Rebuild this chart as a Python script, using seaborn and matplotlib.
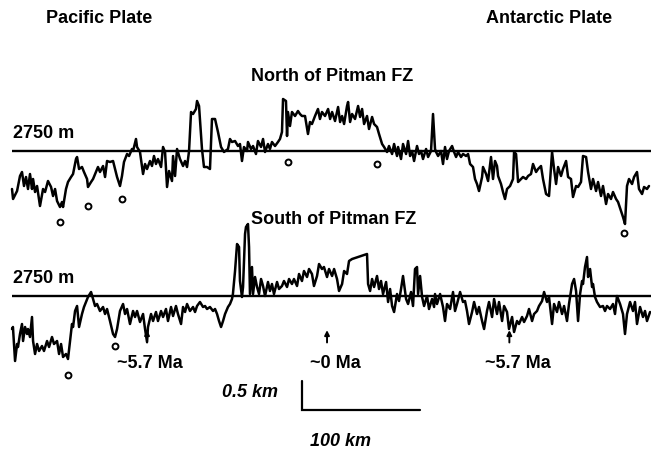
import matplotlib
matplotlib.use("Agg")
import matplotlib.pyplot as plt
import seaborn as sns
import pandas as pd

sns.set_theme(style="white")
plt.rcParams["font.family"] = ["Liberation Sans", "DejaVu Sans"]

# Along-axis distance from the ridge axis (km) and seafloor depth (m)
NORTH_KM = [
    -267.8, -266.9, -263.5, -261.0, -259.3, -257.6, -255.9, -254.2, -252.5, -250.8,
    -249.9, -248.2, -246.5, -244.0, -241.4, -239.7, -237.2, -234.6, -232.9, -231.2,
    -229.5, -227.0, -225.3, -224.4, -221.9, -220.2, -217.6, -215.9, -213.4, -212.5,
    -210.8, -208.3, -206.6, -204.0, -203.2, -200.6, -198.9, -196.4, -194.7, -193.0,
    -190.4, -188.7, -187.0, -184.5, -181.9, -180.2, -178.5, -176.0, -174.3, -172.6,
    -170.0, -168.3, -165.8, -164.9, -162.4, -161.5, -159.0, -156.4, -154.7, -153.0,
    -150.5, -148.8, -147.1, -145.4, -143.7, -141.1, -139.4, -137.7, -136.0, -134.3,
    -131.8, -130.9, -129.2, -127.5, -125.0, -122.4, -120.7, -119.0, -117.3, -115.6,
    -113.9, -111.4, -110.5, -108.8, -106.3, -104.6, -102.0, -99.5, -97.8, -95.2,
    -92.7, -90.1, -87.6, -84.2, -82.5, -80.8, -78.2, -75.7, -74.0, -72.3,
    -70.6, -68.0, -67.2, -64.6, -62.9, -60.4, -58.7, -56.1, -54.4, -52.7,
    -50.2, -48.5, -46.8, -44.2, -41.7, -40.0, -38.3, -37.4, -34.9, -34.0,
    -33.2, -31.5, -29.8, -27.2, -24.7, -23.0, -21.3, -18.7, -16.2, -14.5,
    -12.8, -10.2, -7.7, -6.0, -4.3, -1.7, 0.9, 2.6, 4.3, 6.8,
    9.4, 11.1, 12.8, 14.5, 17.0, 17.9, 19.6, 21.3, 23.8, 26.4,
    28.1, 29.8, 31.5, 34.0, 35.7, 38.3, 40.0, 42.5, 44.2, 46.8,
    48.5, 51.0, 52.7, 55.3, 57.0, 59.5, 60.4, 62.9, 64.6, 67.2,
    68.9, 70.6, 72.3, 74.0, 76.5, 78.2, 79.9, 81.6, 84.2, 85.9,
    88.4, 90.1, 91.8, 92.7, 94.4, 96.9, 98.6, 100.3, 102.0, 103.7,
    106.3, 108.0, 109.7, 111.4, 113.9, 115.6, 118.2, 119.9, 121.6, 124.1,
    125.8, 127.5, 129.2, 131.8, 132.6, 135.2, 136.9, 139.4, 141.1, 142.8,
    144.5, 145.4, 147.9, 149.6, 151.3, 153.0, 155.6, 158.1, 159.0, 160.7,
    162.4, 164.9, 166.6, 169.2, 170.9, 173.4, 175.1, 177.7, 179.4, 181.9,
    183.6, 186.2, 188.7, 191.3, 193.0, 194.7, 196.4, 198.9, 200.6, 203.2,
    204.9, 207.4, 209.1, 211.7, 213.4, 215.9, 217.6, 220.2, 221.9, 224.4,
    226.1, 228.7, 230.4, 232.9, 234.6, 237.2, 238.9, 241.4, 243.1, 245.7,
    247.4, 249.9, 251.6, 253.3, 255.0, 256.7, 259.3, 261.0, 263.5, 265.2,
    267.8, 269.5, 272.0, 273.7,
]
NORTH_DEPTH = [
    3396, 3566, 3430, 3175, 3107, 3345, 3192, 3396, 3141, 3396,
    3226, 3447, 3345, 3685, 3396, 3447, 3260, 3362, 3515, 3396,
    3600, 3702, 3617, 3702, 3396, 3277, 3192, 3141, 2886, 2852,
    3056, 3022, 3107, 3226, 3362, 3277, 3226, 3107, 3022, 3107,
    3005, 3192, 2920, 2937, 2920, 3056, 3192, 3345, 3175, 2937,
    2801, 2835, 2716, 2750, 2546, 2682, 2767, 3141, 2971, 3056,
    2920, 3005, 2835, 2971, 2886, 3022, 2682, 2767, 3362, 3090,
    3260, 2835, 3175, 2716, 2886, 3005, 2920, 3022, 2750, 2087,
    2121, 2036, 1900, 1985, 2716, 3022, 3022, 3056, 2206, 2206,
    2427, 2682, 2767, 2716, 2546, 2597, 2580, 2665, 2631, 2920,
    2682, 2750, 2597, 2716, 2665, 2801, 2580, 2682, 2546, 2767,
    2631, 2716, 2597, 2665, 2597, 2546, 2427, 1866, 1900, 2495,
    2087, 2325, 2087, 2155, 2070, 2121, 2155, 2155, 2461, 2257,
    2291, 2155, 2036, 2206, 2087, 2155, 2036, 2206, 2087, 2240,
    2002, 2257, 2155, 2291, 1985, 1917, 2257, 2121, 2206, 1985,
    2172, 2036, 2291, 2155, 2376, 2172, 2291, 2342, 2461, 2631,
    2682, 2767, 2665, 2801, 2631, 2835, 2682, 2886, 2631, 2801,
    2580, 2835, 2750, 2920, 2665, 2801, 2750, 2886, 2716, 2852,
    2750, 2121, 2716, 2767, 2835, 2750, 2971, 2682, 2886, 2750,
    2665, 2767, 2852, 2767, 2852, 2801, 2835, 2801, 2971, 3022,
    3226, 3311, 3430, 3192, 3022, 3141, 3260, 2852, 3226, 2920,
    3005, 3175, 3311, 3447, 3566, 3396, 3345, 3226, 2767, 2801,
    3277, 3226, 3192, 3226, 3175, 3141, 2971, 3107, 3056, 3005,
    3226, 3481, 3515, 2767, 3056, 3311, 3022, 3175, 3056, 2920,
    3192, 3226, 3532, 3345, 3362, 3277, 2835, 2852, 3107, 3396,
    3226, 3430, 3277, 3515, 3345, 3651, 3481, 3566, 3447, 3566,
    3617, 3770, 3872, 3991, 3345, 3226, 3311, 3192, 3107, 3396,
    3481, 3362, 3396, 3345,
]

SOUTH_KM = [
    -267.8, -267.0, -265.2, -263.5, -262.7, -261.0, -259.3, -258.4, -256.7, -255.0,
    -254.2, -252.5, -250.8, -249.9, -248.2, -246.5, -244.8, -242.3, -240.6, -238.0,
    -236.3, -233.8, -232.1, -229.5, -227.8, -226.1, -224.4, -221.9, -220.2, -218.5,
    -216.8, -215.9, -214.2, -212.5, -210.8, -208.3, -206.6, -204.9, -203.2, -200.6,
    -198.9, -197.2, -195.5, -193.0, -190.4, -188.7, -187.0, -184.5, -181.9, -180.2,
    -178.5, -176.0, -173.4, -171.7, -170.0, -167.5, -164.9, -163.2, -161.5, -159.0,
    -156.4, -154.7, -153.0, -152.2, -149.6, -147.9, -145.4, -143.7, -141.1, -139.4,
    -136.9, -135.2, -132.6, -130.9, -128.4, -126.7, -124.1, -122.4, -120.7, -119.0,
    -116.5, -113.9, -112.2, -110.5, -108.0, -105.4, -103.7, -102.0, -99.5, -96.9,
    -95.2, -93.5, -91.8, -90.1, -88.4, -86.7, -84.2, -82.5, -80.8, -80.0,
    -78.2, -76.5, -74.8, -74.0, -72.3, -71.4, -69.7, -68.9, -67.2, -66.3,
    -65.5, -63.8, -62.9, -61.2, -59.5, -57.8, -56.1, -54.4, -52.7, -50.2,
    -48.5, -46.8, -45.1, -42.5, -40.8, -38.3, -36.6, -34.0, -32.3, -29.8,
    -28.1, -25.5, -23.8, -21.3, -19.6, -17.0, -15.3, -12.8, -11.1, -8.5,
    -6.8, -4.3, -2.6, 0.0, 1.7, 4.3, 6.0, 8.5, 10.2, 12.8,
    14.5, 17.0, 18.7, 21.3, 34.0, 34.9, 36.6, 38.3, 40.0, 42.5,
    44.2, 45.9, 47.6, 50.2, 51.9, 53.6, 55.3, 57.0, 59.5, 61.2,
    62.9, 64.6, 67.2, 68.9, 71.4, 73.1, 74.8, 76.5, 77.4, 79.1,
    80.8, 82.5, 85.0, 86.7, 89.3, 91.0, 91.8, 93.5, 96.1, 98.6,
    100.3, 102.0, 104.6, 107.1, 108.8, 110.5, 113.1, 115.6, 117.3, 119.0,
    120.7, 123.3, 125.0, 127.5, 129.2, 131.8, 133.5, 136.0, 137.7, 140.3,
    142.0, 144.5, 146.2, 148.8, 150.5, 153.0, 154.7, 157.3, 159.0, 161.5,
    163.2, 165.8, 167.5, 170.0, 171.7, 174.3, 176.0, 178.5, 180.2, 182.8,
    184.5, 187.0, 188.7, 191.3, 193.0, 195.5, 197.2, 199.8, 201.5, 204.0,
    205.7, 208.3, 210.0, 211.7, 213.4, 215.1, 216.8, 217.6, 219.3, 221.0,
    221.9, 223.6, 225.3, 226.1, 227.8, 229.5, 232.1, 234.6, 236.3, 238.0,
    240.6, 243.1, 244.8, 246.5, 249.1, 251.6, 253.3, 255.0, 257.6, 260.1,
    261.8, 263.5, 266.1, 268.6, 270.3, 272.0, 274.6,
]
SOUTH_DEPTH = [
    3311, 3277, 3855, 3566, 3617, 3396, 3226, 3515, 3277, 3396,
    3311, 3447, 3107, 3515, 3736, 3566, 3685, 3600, 3685, 3515,
    3617, 3447, 3566, 3515, 3736, 3566, 3787, 3736, 3821, 3515,
    3226, 3277, 3005, 2920, 3277, 3056, 2937, 2852, 2767, 2682,
    2801, 2920, 2886, 3005, 2937, 3056, 2971, 3175, 3396, 3447,
    3311, 3005, 2886, 3056, 2971, 3226, 3005, 3107, 3005, 3192,
    3056, 3311, 3532, 3277, 3056, 3175, 3022, 3175, 3005, 3107,
    2971, 3175, 2937, 3090, 2920, 3056, 3226, 2937, 3022, 2886,
    3005, 2937, 3022, 2920, 2852, 2937, 2920, 2971, 2937, 3005,
    2971, 3056, 3175, 3277, 3175, 3056, 2937, 2886, 2801, 2716,
    2325, 1866, 1917, 2495, 2767, 2597, 1696, 1577, 1526, 1917,
    2716, 2257, 2716, 2427, 2597, 2716, 2461, 2580, 2750, 2512,
    2665, 2546, 2716, 2512, 2631, 2580, 2495, 2597, 2461, 2546,
    2461, 2580, 2376, 2495, 2325, 2427, 2291, 2376, 2580, 2410,
    2206, 2291, 2257, 2427, 2291, 2410, 2291, 2461, 2665, 2546,
    2325, 2376, 2155, 2121, 2036, 2546, 2665, 2461, 2597, 2410,
    2631, 2495, 2716, 2512, 2852, 2631, 2920, 3022, 2716, 2835,
    2631, 2410, 2801, 2886, 2682, 2920, 2291, 2257, 2716, 2410,
    2767, 2920, 2750, 2971, 2801, 2937, 2716, 2886, 2716, 2937,
    3175, 2886, 2971, 2682, 3005, 2886, 2682, 2852, 2835, 3005,
    3226, 3022, 2852, 3056, 2937, 3175, 3311, 3005, 2852, 3107,
    2801, 3056, 2852, 3175, 2920, 3022, 3311, 3107, 3362, 3175,
    3226, 3107, 3192, 3090, 2971, 3175, 3056, 3005, 2920, 2835,
    2682, 2852, 2767, 3226, 2886, 3022, 2852, 3056, 2920, 3175,
    2886, 2546, 2461, 2665, 3175, 2716, 2495, 2546, 2257, 2087,
    2427, 2291, 2597, 2546, 2767, 2852, 2937, 2920, 3005, 2920,
    2971, 2886, 3056, 2750, 2886, 3056, 3396, 3056, 2852, 3005,
    2852, 3226, 2937, 3107, 3005, 3175, 3022,
]

# Picked axial-high edges (open circles)
NORTH_PICK_KM = [-227.0, -203.2, -174.3, -33.2, 42.5, 252.5]
NORTH_PICK_DEPTH = [3957, 3685, 3566, 2937, 2971, 4144]
SOUTH_PICK_KM = [-220.2, -180.2]
SOUTH_PICK_DEPTH = [4093, 3600]

# Crustal ages marked along the southern profile
AGE_KM = [-153.0, 0.0, 155.0]
AGE_LABELS = ["~5.7 Ma", "~0 Ma", "~5.7 Ma"]

REF_DEPTH = 2750
TITLES = ["North of Pitman FZ", "South of Pitman FZ"]

# vertical separation of the two stacked profiles (m)
SOUTH_SHIFT = 2465

north = pd.DataFrame({"km": NORTH_KM, "depth": NORTH_DEPTH})
south = pd.DataFrame({"km": SOUTH_KM, "depth": [d + SOUTH_SHIFT for d in SOUTH_DEPTH]})

fig = plt.figure(figsize=(6.51, 4.52), dpi=100)
ax = fig.add_axes([0, 0, 1, 1])
ax.set_xlim(-278.0, 275.4)
ax.set_ylim(7850, 166)
ax.axis("off")

lw = 1.8
for df in (north, south):
    sns.lineplot(data=df, x="km", y="depth", sort=False, estimator=None,
                 color="black", lw=lw, ax=ax)

x_end = 275.4
for ref, x0 in ((REF_DEPTH, NORTH_KM[0]), (REF_DEPTH + SOUTH_SHIFT, SOUTH_KM[0])):
    ax.hlines(ref, x0, x_end, color="black", lw=1.7)

dots = pd.DataFrame({
    "km": NORTH_PICK_KM + SOUTH_PICK_KM,
    "depth": NORTH_PICK_DEPTH + [d + SOUTH_SHIFT for d in SOUTH_PICK_DEPTH],
})
sns.scatterplot(data=dots, x="km", y="depth", marker="o", s=18,
                facecolor="white", edgecolor="black", linewidth=1.4, ax=ax, zorder=5)

font = dict(fontsize=13, fontweight="bold", color="black")

# reference depth labels
for ref, x0 in ((REF_DEPTH, NORTH_KM[0]), (REF_DEPTH + SOUTH_SHIFT, SOUTH_KM[0])):
    ax.annotate(f"{REF_DEPTH} m", xy=(x0, ref), xytext=(1, 13),
                textcoords="offset points", ha="left", va="center", **font)

# age arrows and labels
label_shift = [2, 7, 7]
for km, lab, dx in zip(AGE_KM, AGE_LABELS, label_shift):
    tip = 3330 + SOUTH_SHIFT
    tail = 3540 + SOUTH_SHIFT
    ax.annotate("", xy=(km, tip), xytext=(km, tail),
                arrowprops=dict(arrowstyle="-|>", color="black", lw=1.4,
                                mutation_scale=7, shrinkA=0, shrinkB=0))
    ax.text(km + dx, 3872 + SOUTH_SHIFT, lab, ha="center", va="center", **font)

# titles and plate names
fig.text(0.510, 0.830, TITLES[0], ha="center", va="center", **font)
fig.text(0.512, 0.515, TITLES[1], ha="center", va="center", **font)
fig.text(0.153, 0.958, "Pacific Plate", ha="center", va="center", **font)
fig.text(0.843, 0.958, "Antarctic Plate", ha="center", va="center", **font)

# scale bar: 100 km by 0.5 km
sb_x, sb_y = -21.3, 7153
ax.plot([sb_x, sb_x, sb_x + 100], [sb_y - 500, sb_y, sb_y], color="black", lw=1.6,
        solid_joinstyle="miter")
ax.text(sb_x - 20, sb_y - 320, "0.5 km", ha="right", va="center",
        fontstyle="italic", **font)
ax.text(sb_x + 33, sb_y + 525, "100 km", ha="center", va="center",
        fontstyle="italic", **font)

fig.savefig("out.png", dpi=100, facecolor="white")
